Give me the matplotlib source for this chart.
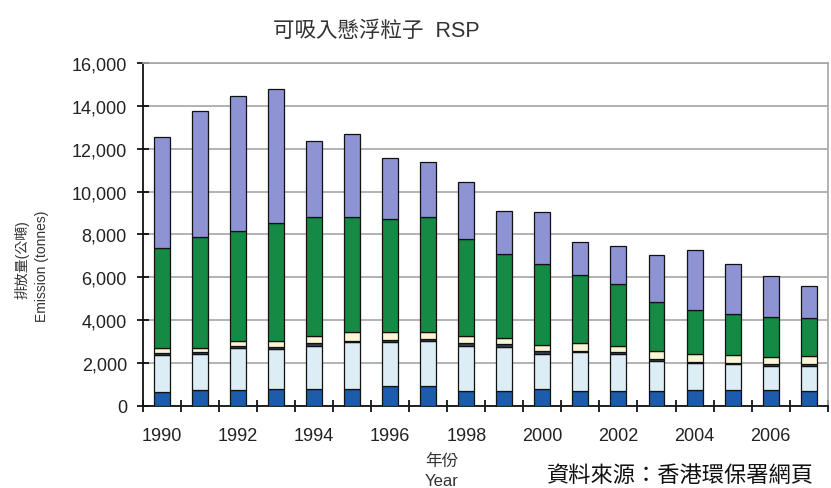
import numpy as np
import matplotlib
matplotlib.use("Agg")
import matplotlib.pyplot as plt
from matplotlib.ticker import FuncFormatter, MultipleLocator

plt.rcParams["font.family"] = ["Liberation Sans", "Noto Sans CJK TC", "DejaVu Sans"]

# emissions in tonnes, stacked bottom -> top
years = list(range(1990, 2008))
s_darkblue = [640, 720, 720, 800, 800, 800, 910, 920, 710, 680, 790, 690, 690, 690, 760, 760, 760, 690]
s_lightblue = [1750, 1700, 1970, 1860, 2010, 2170, 2060, 2120, 2100, 2080, 1640, 1810, 1740, 1420, 1240, 1200, 1090, 1160]
s_dark = [80, 80, 110, 110, 120, 80, 110, 80, 130, 110, 120, 70, 70, 70, 60, 60, 110, 90]
s_cream = [230, 220, 240, 270, 350, 380, 350, 340, 320, 290, 300, 350, 280, 400, 370, 360, 340, 410]
s_green = [4650, 5180, 5140, 5500, 5520, 5370, 5290, 5340, 4510, 3930, 3770, 3190, 2910, 2260, 2060, 1910, 1840, 1740]
s_purple = [5200, 5850, 6270, 6260, 3550, 3900, 2850, 2600, 2660, 2020, 2410, 1550, 1790, 2200, 2780, 2330, 1910, 1520]

series = [s_darkblue, s_lightblue, s_dark, s_cream, s_green, s_purple]
colors = ["#1c5cab", "#dcedf5", "#34404f", "#fbf5d6", "#148a45", "#8e93d3"]

fig = plt.figure(figsize=(8.31, 4.89), dpi=100)
ax = fig.add_axes([0.172, 0.168, 0.824, 0.701])

x = np.arange(len(years))
bottom = np.zeros(len(years))
for vals, c in zip(series, colors):
    ax.bar(x, vals, bottom=bottom, width=0.42, color=c, edgecolor="#111111",
           linewidth=0.9, zorder=3)
    bottom += np.array(vals)

ax.set_xlim(-0.5, len(years) - 0.5)
ax.set_ylim(0, 16000)
ax.yaxis.set_major_locator(MultipleLocator(2000))
ax.yaxis.set_major_formatter(FuncFormatter(lambda v, _: f"{int(v):,}"))
ax.grid(axis="y", color="#a6a6a6", lw=1.2, zorder=0)

ax.set_xticks(x[::2])
ax.set_xticklabels([str(y) for y in years[::2]])
ax.set_xticks(np.arange(-0.5, len(years), 1.0), minor=True)
ax.tick_params(axis="x", which="major", length=0, pad=15, labelsize=13, labelcolor="#222222")
ax.tick_params(axis="x", which="minor", direction="inout", length=9, width=1.2)
ax.tick_params(axis="y", direction="inout", length=9, width=1.2, pad=7,
               labelsize=13, labelcolor="#222222")

for side in ("left", "bottom"):
    ax.spines[side].set_color("#111111")
    ax.spines[side].set_linewidth(1.3)
for side in ("top", "right"):
    ax.spines[side].set_color("#a6a6a6")
    ax.spines[side].set_linewidth(1.2)

fig.text(0.453, 0.935, "可吸入懸浮粒子  RSP", ha="center", va="center",
         fontsize=15.5, color="#333333")
fig.text(0.026, 0.47, "排放量(公噸)", rotation=90, ha="center", va="center",
         fontsize=10, color="#333333")
fig.text(0.050, 0.455, "Emission (tonnes)", rotation=90, ha="center", va="center",
         fontsize=10, color="#333333")
fig.text(0.532, 0.057, "年份", ha="center", va="center", fontsize=12, color="#333333")
fig.text(0.532, 0.016, "Year", ha="center", va="center", fontsize=12, color="#333333")
fig.text(0.658, 0.004, "資料來源：香港環保署網頁", ha="left", va="bottom",
         fontsize=16, color="#111111")

fig.savefig("out.png", dpi=100)
